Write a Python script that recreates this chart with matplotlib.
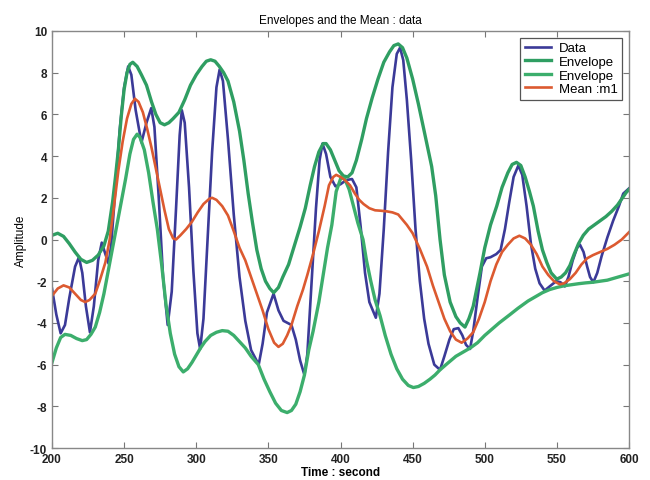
import matplotlib
matplotlib.use("Agg")
import matplotlib.pyplot as plt

# --- data (time, amplitude) ---
data_t = [200, 203, 206, 209, 212, 216, 218.7, 221, 223.5, 226.3, 229, 232, 234.5, 237, 239.2,
          241, 244, 247, 250, 252.8, 255, 258, 262, 265.5, 268.8, 271, 274, 277, 280.2, 283,
          286, 288.5, 290, 292, 295, 298, 300.8, 302.7, 305, 308, 311, 314, 316.2, 318.5, 322,
          326, 330, 334, 338, 343.3, 346, 349, 353.6, 357, 360.5, 366, 369, 372, 375, 377,
          380, 383, 385.5, 387.5, 390, 393, 396.5, 400, 404, 408, 411, 414, 417, 420, 424.5,
          427, 430, 433, 436, 439, 441.3, 443.5, 446, 449, 452, 455, 458, 461, 465, 469,
          472, 475.5, 478.5, 481.7, 484.5, 487, 489.8, 492, 495, 498, 501, 504, 508, 511,
          514, 517, 520, 523.3, 526, 529, 532, 535, 538, 541.5, 545, 549.5, 552.5, 555.5,
          558, 561, 564, 566, 568.5, 571, 573, 575.3, 578, 581, 585, 589, 593, 596, 600]
data_y = [-2.35, -3.6, -4.5, -4.1, -2.8, -1.3, -0.85, -1.6, -3.2, -4.45, -3.2, -1.0, -0.15, -0.7, -1.15,
          -0.3, 2.5, 5.3, 7.3, 8.3, 7.9, 6.2, 4.65, 5.6, 6.3, 5.4, 2.0, -1.8, -4.1, -2.5,
          1.5, 5.0, 6.2, 5.6, 2.5, -1.5, -4.5, -5.25, -3.8, 0.2, 4.2, 7.3, 8.15, 7.6, 4.8,
          1.2, -1.8, -3.9, -5.3, -6.0, -5.0, -3.5, -2.6, -3.4, -3.9, -4.1, -4.8, -5.8, -6.5, -5.5,
          -2.0, 1.5, 3.8, 4.6, 4.1, 3.0, 2.55, 2.65, 2.85, 2.9, 2.5, 0.6, -1.6, -3.0, -3.75,
          -2.6, 0.5, 4.2, 7.3, 8.9, 9.2, 8.6, 6.7, 3.8, 0.5, -2.0, -3.8, -5.0, -6.0, -6.25,
          -5.6, -4.8, -4.3, -4.25, -4.6, -5.05, -5.25, -4.4, -2.8, -1.3, -0.9, -0.85, -0.7, -0.5,
          0.5, 1.8, 3.0, 3.55, 3.1, 1.6, -0.2, -1.4, -2.1, -2.45, -2.25, -2.0, -2.05, -2.25,
          -1.8, -1.0, -0.4, -0.25, -0.6, -1.3, -1.8, -2.05, -1.6, -0.8, 0.1, 0.9, 1.6, 2.2, 2.45]

upper_t = [200, 204, 208, 212, 216, 220, 224, 228, 232, 236, 239, 242, 244, 246, 248, 250, 252,
           254, 256, 259, 262, 265.5, 269, 272, 275, 278, 281, 284, 288, 292, 296, 300, 304,
           307, 310, 313, 316, 319, 322, 326, 330, 333, 336, 339, 342, 345, 348, 351, 353.7,
           357, 360, 364, 368, 372, 375.6, 379, 382, 385, 388, 390, 393, 396, 399, 402, 405,
           408, 411, 414.7, 418, 422, 426, 430, 434, 437, 440, 443, 446, 450, 454, 458, 463.2,
           466, 469, 472, 476, 480, 483, 486.3, 489, 492, 496.7, 500, 504, 508.3, 512, 516,
           519, 522, 525, 528, 531, 533.7, 537, 540, 543, 546, 549.9, 553, 556, 559, 562, 565,
           568.3, 572, 576, 580, 584, 588, 592, 595, 598, 600]
upper_y = [0.2, 0.3, 0.15, -0.2, -0.6, -0.95, -1.1, -1.0, -0.75, -0.3, 0.4, 1.8, 3.0, 4.3, 5.9, 7.2, 8.0,
           8.4, 8.5, 8.3, 7.9, 7.4, 6.6, 6.0, 5.6, 5.5, 5.6, 5.8, 6.1, 6.7, 7.4, 7.9, 8.3,
           8.55, 8.62, 8.55, 8.3, 8.0, 7.6, 6.6, 5.2, 3.8, 2.2, 0.8, -0.5, -1.4, -2.0, -2.35, -2.55,
           -2.3, -1.8, -1.2, -0.3, 0.6, 1.5, 2.6, 3.5, 4.2, 4.6, 4.6, 4.3, 3.8, 3.3, 3.05, 3.0,
           3.2, 3.8, 4.8, 5.8, 6.8, 7.7, 8.5, 9.0, 9.3, 9.38, 9.2, 8.7, 7.7, 6.5, 5.2, 3.5,
           2.1, 0.0, -1.7, -3.0, -3.7, -4.0, -4.2, -3.8, -3.2, -1.6, -0.4, 0.7, 1.6, 2.5, 3.2,
           3.6, 3.7, 3.55, 3.0, 2.3, 1.6, 0.4, -0.5, -1.1, -1.6, -1.9, -1.8, -1.6, -1.25, -0.7, -0.2,
           0.2, 0.5, 0.7, 0.9, 1.1, 1.35, 1.65, 1.95, 2.25, 2.4]

lower_t = [200, 203, 206, 209, 213, 217, 221, 224, 227, 230, 233, 236, 239, 242, 245, 248, 251,
           254, 256.5, 259, 261, 264, 267, 270, 273, 276, 279, 282, 285, 288, 291, 294, 297,
           300, 303, 306, 310, 314, 318, 322, 326, 330, 334, 338, 343, 347, 351, 355, 359, 363,
           366, 369, 372, 375, 378, 381, 385, 388, 391, 394, 397, 400.5, 403, 406, 409, 412,
           415.6, 418, 421, 424, 427.4, 431, 435, 439, 443, 447, 450.5, 454, 458, 462, 465.5,
           469, 474, 480, 485, 490, 495, 500, 505, 510, 517.5, 523, 530, 535, 540, 545, 550,
           555, 560, 565, 570, 575, 580, 585, 590, 595, 600]
lower_y = [-5.9, -5.2, -4.7, -4.55, -4.6, -4.75, -4.85, -4.8, -4.55, -4.2, -3.5, -2.6, -1.5, -0.4, 0.7, 1.8, 2.9,
           4.1, 4.8, 5.05, 4.9, 4.3, 3.2, 1.8, 0.5, -1.2, -3.1, -4.5, -5.5, -6.1, -6.35, -6.2, -5.9,
           -5.55, -5.2, -4.9, -4.6, -4.45, -4.37, -4.4, -4.6, -4.9, -5.2, -5.6, -6.0, -6.7, -7.3, -7.85, -8.2, -8.3,
           -8.2, -7.9, -7.3, -6.5, -5.3, -4.4, -3.0, -1.7, -0.4, 0.7, 2.3, 3.0, 2.9, 2.4, 1.6, 0.8,
           0.0, -1.0, -2.0, -2.9, -3.65, -4.6, -5.5, -6.2, -6.7, -7.0, -7.1, -7.05, -6.9, -6.7, -6.5,
           -6.25, -5.95, -5.6, -5.4, -5.2, -4.95, -4.6, -4.3, -4.0, -3.6, -3.3, -2.95, -2.75, -2.55, -2.4, -2.3,
           -2.22, -2.17, -2.12, -2.08, -2.05, -2.0, -1.95, -1.85, -1.75, -1.65]

mean_t = [200, 204, 208, 212, 216, 220, 223, 226, 230, 233, 237, 240, 243, 246, 249, 252, 255,
          257.5, 260, 263, 266, 269, 272, 275, 278, 281, 284, 286, 289, 293, 297, 301, 305,
          309, 311, 314, 318, 322, 326, 330, 334, 338, 342, 346, 350, 354, 357, 360, 363, 366,
          370, 374, 377, 381, 385, 389, 392, 395, 397, 400, 403, 406.6, 410, 413, 416, 420,
          424, 428, 432, 436, 440, 443, 446, 450, 455, 460, 464, 468, 472, 476, 480, 484, 488,
          492, 496, 500, 504, 508, 512, 516, 520, 524, 528, 532, 536, 540, 544, 548, 552, 555,
          559, 563, 567, 571, 575, 580, 585, 590, 595, 600]
mean_y = [-2.7, -2.35, -2.2, -2.3, -2.6, -2.9, -3.0, -2.9, -2.6, -2.0, -1.1, 0.0, 1.6, 3.3, 4.7, 5.8, 6.5,
          6.75, 6.6, 6.1, 5.3, 4.4, 3.4, 2.4, 1.4, 0.5, 0.05, 0.0, 0.2, 0.5, 0.85, 1.3, 1.7,
          1.95, 2.0, 1.9, 1.6, 1.15, 0.4, -0.4, -1.0, -1.8, -2.6, -3.4, -4.3, -4.95, -5.15, -5.0, -4.6, -4.1,
          -3.2, -2.4, -1.7, -0.7, 0.4, 1.6, 2.6, 3.0, 3.1, 3.0, 2.85, 2.6, 2.2, 1.9, 1.7, 1.5,
          1.4, 1.38, 1.35, 1.3, 1.2, 0.95, 0.7, 0.3, -0.45, -1.3, -2.2, -3.0, -3.8, -4.4, -4.8, -4.95, -4.75,
          -4.45, -3.8, -3.0, -2.0, -1.2, -0.6, -0.25, 0.05, 0.18, 0.05, -0.25, -0.7, -1.3, -1.7, -2.0, -2.15, -2.1,
          -1.9, -1.6, -1.2, -0.9, -0.75, -0.6, -0.45, -0.25, 0.0, 0.35]

x_ticks = [200, 250, 300, 350, 400, 450, 500, 550, 600]
y_ticks = [-10, -8, -6, -4, -2, 0, 2, 4, 6, 8, 10]

plt.rcParams['font.family'] = ['Liberation Sans', 'DejaVu Sans']
plt.rcParams['axes.unicode_minus'] = False  # plain hyphen like the original

fig = plt.figure(figsize=(6.5, 4.81), dpi=100)
ax = fig.add_axes([0.08, 0.0665, 0.8877, 0.867])

ax.plot(data_t, data_y, color='#3b3a98', linewidth=1.9, label='Data')
ax.plot(upper_t, upper_y, color='#2f9e62', linewidth=2.4, label='Envelope')
ax.plot(lower_t, lower_y, color='#3cae6c', linewidth=2.4, label='Envelope')
ax.plot(mean_t, mean_y, color='#dc5a30', linewidth=1.9, label='Mean :m1')

ax.set_xlim(200, 600)
ax.set_ylim(-10, 10)
ax.set_xticks(x_ticks)
ax.set_yticks(y_ticks)
ax.tick_params(direction='in', length=4, top=True, right=True, labelsize=8.5,
               color='#777777', labelcolor='#222222')
for lbl in ax.get_xticklabels() + ax.get_yticklabels():
    lbl.set_fontweight('bold')
for s in ax.spines.values():
    s.set_color('#888888')
    s.set_linewidth(1.0)

ax.set_title('Envelopes and the Mean : data', fontsize=8.5, pad=6)
ax.set_xlabel('Time : second', fontsize=8.5, fontweight='bold', labelpad=1)
ax.set_ylabel('Amplitude', fontsize=8.5, labelpad=2)

leg = ax.legend(loc='upper right', fontsize=9.5, fancybox=False, framealpha=1,
                edgecolor='#555555', borderpad=0.35, labelspacing=0.1,
                handlelength=2.0, handletextpad=0.6, borderaxespad=0.5)
leg.get_frame().set_linewidth(0.9)

fig.savefig('out.png', dpi=100)
